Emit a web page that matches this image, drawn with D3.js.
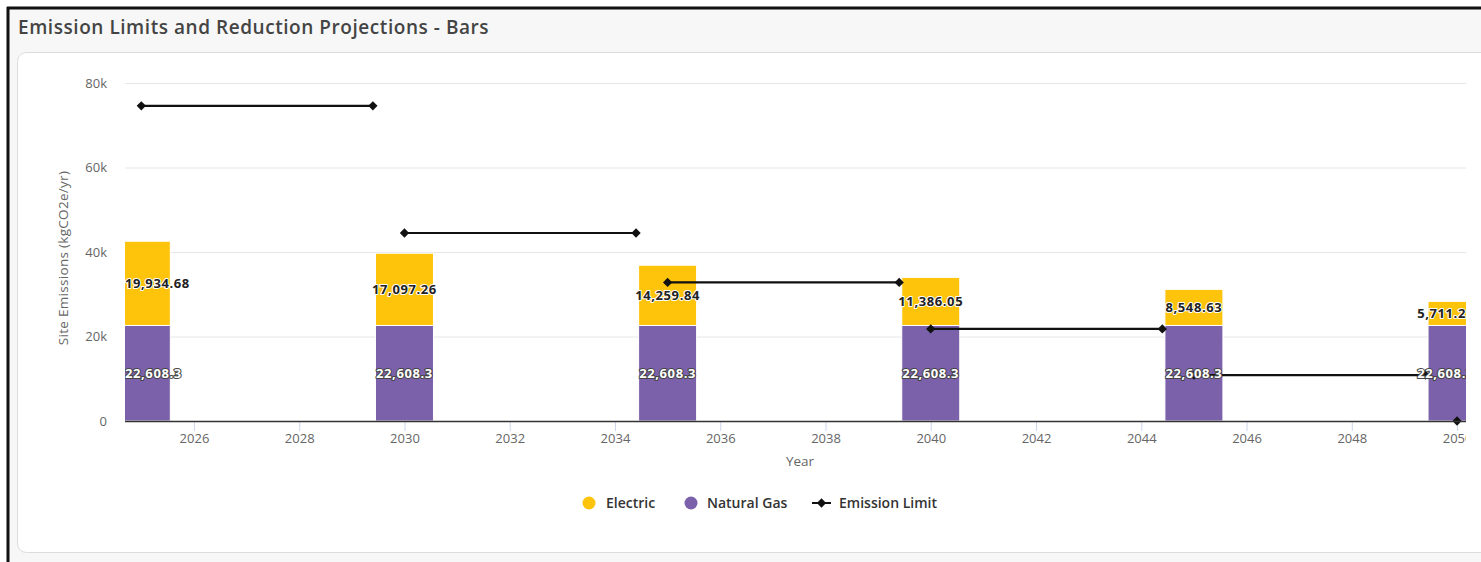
<!DOCTYPE html>
<html>
<head>
<meta charset="utf-8">
<script src="https://cdn.jsdelivr.net/npm/d3@7"></script>
<style>
  body { margin: 0; background: #fff; font-family: "Open Sans", "Noto Sans", sans-serif; }
  svg { display: block; }
</style>
</head>
<body>
<script>
// data
const years = [2025, 2030, 2035, 2040, 2045, 2050];
const electric = [19934.68, 17097.26, 14259.84, 11386.05, 8548.63, 5711.21];
const naturalGas = [22608.3, 22608.3, 22608.3, 22608.3, 22608.3, 22608.3];

// emission limit: one flat step per period
const limitStart = [2025, 2030, 2035, 2040, 2045, 2050];
const limitEnd = [2029.4, 2034.4, 2039.4, 2044.4, 2049.4, 2050];
const limitValue = [74600, 44500, 32800, 21800, 10850, 0];

const xTicks = [2026, 2028, 2030, 2032, 2034, 2036, 2038, 2040, 2042, 2044, 2046, 2048, 2050];
const yTicks = [0, 20000, 40000, 60000, 80000];
const xDomain = [2024.69, 2050.17];
const yDomain = [0, 80000];

const colors = {electric: "#fec30b", gas: "#7b60aa", limit: "#111"};

var config = {
    width: 1481,
    height: 562,
    plot: {left: 125, right: 1466, top: 83, bottom: 421},
    barWidth: 58
};

const svg = d3.select("body").append("svg")
    .attr("width", config.width)
    .attr("height", config.height);

// page frame + card
svg.append("rect").attr("x", 8).attr("y", 8).attr("width", config.width).attr("height", config.height)
    .attr("fill", "#f7f7f7");
svg.append("line").attr("x1", 8).attr("x2", 8).attr("y1", 7).attr("y2", config.height).attr("stroke", "#111").attr("stroke-width", 3);
svg.append("line").attr("x1", 7).attr("x2", config.width).attr("y1", 8).attr("y2", 8).attr("stroke", "#111").attr("stroke-width", 3);
svg.append("rect").attr("x", 17.5).attr("y", 52.5).attr("width", 1475).attr("height", 500).attr("rx", 9)
    .attr("fill", "#fff").attr("stroke", "#dcdcdc");

svg.append("text")
    .attr("x", 18).attr("y", 34)
    .attr("font-size", "19px").attr("font-weight", 600).attr("letter-spacing", "0.55px").attr("fill", "#444")
    .text("Emission Limits and Reduction Projections - Bars");

const p = config.plot;
const x = d3.scaleLinear().domain(xDomain).range([p.left, p.right]);
const y = d3.scaleLinear().domain(yDomain).range([p.bottom, p.top]);

svg.append("defs").append("clipPath").attr("id", "plotclip")
    .append("rect").attr("x", p.left).attr("y", 0).attr("width", p.right - p.left).attr("height", config.height);

// grid
svg.append("g").selectAll("line").data(yTicks.filter(d => d > 0)).join("line")
    .attr("x1", p.left).attr("x2", p.right)
    .attr("y1", d => y(d) + 0.5).attr("y2", d => y(d) + 0.5)
    .attr("stroke", "#e6e6e6");

// y axis labels
const yAxis = svg.append("g")
    .attr("transform", `translate(${p.left - 15},0)`)
    .call(d3.axisLeft(y).tickValues(yTicks).tickSize(0).tickFormat(d => d === 0 ? "0" : d / 1000 + "k"));
yAxis.select(".domain").remove();
yAxis.selectAll("text").attr("font-family", "Open Sans").attr("font-size", "13px").attr("fill", "#666");

svg.append("text")
    .attr("transform", `translate(68,${(p.top + p.bottom) / 2 + 6}) rotate(-90)`)
    .attr("text-anchor", "middle")
    .attr("font-size", "13.5px").attr("letter-spacing", "0.3px").attr("fill", "#666")
    .text("Site Emissions (kgCO2e/yr)");

const clipped = svg.append("g").attr("clip-path", "url(#plotclip)");

// x axis
const xAxis = clipped.append("g")
    .attr("transform", `translate(0,${p.bottom})`)
    .call(d3.axisBottom(x).tickValues(xTicks).tickSize(10).tickPadding(3).tickFormat(d3.format("d")));
xAxis.select(".domain").remove();
xAxis.selectAll(".tick line").attr("stroke", "#ccd6eb");
xAxis.selectAll("text").attr("font-family", "Open Sans").attr("font-size", "13px").attr("fill", "#666");

svg.append("text")
    .attr("x", 800).attr("y", 466)
    .attr("text-anchor", "middle")
    .attr("font-size", "13.5px").attr("fill", "#666")
    .text("Year");

// stacked bars
const rows = years.map((yr, i) => ({year: yr, gas: naturalGas[i], electric: electric[i]}));
const stack = d3.stack().keys(["gas", "electric"])(rows);
const fills = {gas: colors.gas, electric: colors.electric};

clipped.append("g").selectAll("g").data(stack).join("g")
    .attr("fill", s => fills[s.key])
    .selectAll("rect").data(s => s).join("rect")
    .attr("x", d => x(d.data.year) - config.barWidth / 2)
    .attr("width", config.barWidth)
    .attr("y", d => y(d[1]))
    .attr("height", d => y(d[0]) - y(d[1]))
    .attr("stroke", "#fff").attr("stroke-width", 1);

svg.append("line")
    .attr("x1", p.left).attr("x2", p.right)
    .attr("y1", p.bottom + 0.5).attr("y2", p.bottom + 0.5)
    .attr("stroke", "#333").attr("stroke-width", 1.5);

// emission limit
const limitPts = [];
limitStart.forEach((s, i) => {
    limitPts.push({x: s, v: limitValue[i]});
    if (limitEnd[i] !== s) limitPts.push({x: limitEnd[i], v: limitValue[i]});
    limitPts.push(null);
});
const line = d3.line().defined(d => d !== null).x(d => x(d.x)).y(d => y(d.v));
clipped.append("path")
    .attr("d", line(limitPts))
    .attr("fill", "none").attr("stroke", colors.limit).attr("stroke-width", 2.2);
const diamond = d3.symbol().type(d3.symbolDiamond2).size(55);
clipped.append("g").selectAll("path").data(limitPts.filter(d => d)).join("path")
    .attr("transform", d => `translate(${x(d.x)},${y(d.v)})`)
    .attr("d", diamond)
    .attr("fill", colors.limit);

// data labels
const fmt = d3.format(",");
const labels = clipped.append("g")
    .attr("font-family", "Open Sans").attr("font-weight", "bold").attr("font-size", "13px")
    .attr("letter-spacing", "0.6px");
stack.forEach(s => {
    const dark = s.key === "electric";
    s.forEach(d => {
        const t = labels.append("text")
            .attr("y", y((d[0] + d[1]) / 2))
            .attr("dy", "0.35em")
            .attr("fill", dark ? "#222" : "#fff")
            .attr("stroke", dark ? "#fff" : "#444")
            .attr("stroke-width", 2).attr("paint-order", "stroke")
            .attr("stroke-linejoin", "round")
            .text(fmt(d[1] - d[0]));
        const w = t.node().getComputedTextLength();
        let left = x(d.data.year) - w / 2;
        if (left < p.left) left = p.left;
        if (left + w > p.right + 8) left = p.right + 8 - w;
        t.attr("x", left);
    });
});

// legend
const legend = svg.append("g").attr("transform", "translate(0,503)")
    .attr("font-size", "14px").attr("font-weight", 600).attr("fill", "#333");
legend.append("circle").attr("cx", 589).attr("r", 6.5).attr("fill", colors.electric);
legend.append("text").attr("x", 606).attr("dy", "0.35em").text("Electric");
legend.append("circle").attr("cx", 691).attr("r", 6.5).attr("fill", colors.gas);
legend.append("text").attr("x", 707).attr("dy", "0.35em").text("Natural Gas");
legend.append("line").attr("x1", 812).attr("x2", 831).attr("stroke", colors.limit).attr("stroke-width", 2);
legend.append("path").attr("transform", "translate(821.5,0)").attr("d", diamond).attr("fill", colors.limit);
legend.append("text").attr("x", 839).attr("dy", "0.35em").text("Emission Limit");
</script>
</body>
</html>
